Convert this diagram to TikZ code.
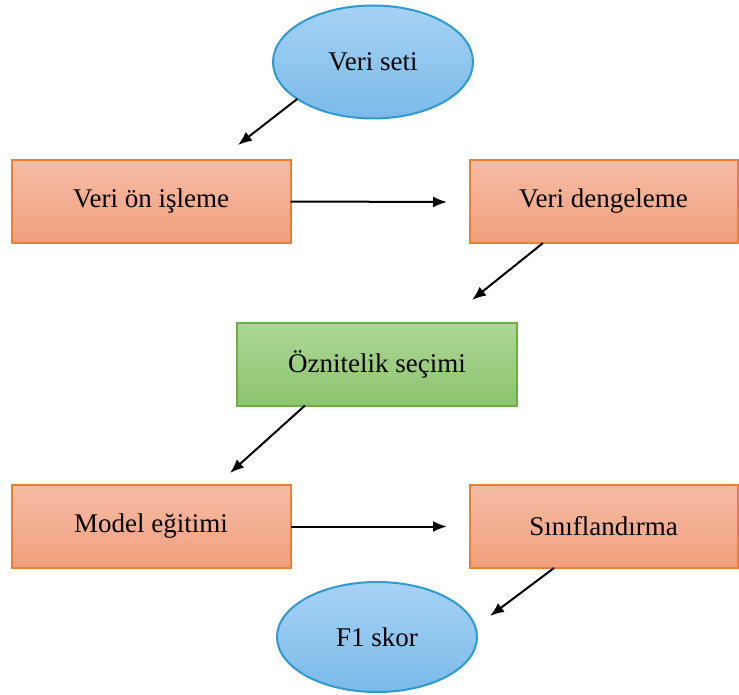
\documentclass[tikz,border=0pt]{standalone}
\usepackage{fontspec}
\setmainfont{Liberation Serif}
\usetikzlibrary{shapes.geometric,arrows.meta}
\definecolor{blueline}{HTML}{2E9AD0}
\definecolor{bluetop}{HTML}{A6D2F5}
\definecolor{bluebot}{HTML}{7BBAE8}
\definecolor{orangeline}{HTML}{ED7D31}
\definecolor{orangetop}{HTML}{F5BCA5}
\definecolor{orangebot}{HTML}{F19F7C}
\definecolor{greenline}{HTML}{70AD47}
\definecolor{greentop}{HTML}{ADD697}
\definecolor{greenbot}{HTML}{8CC46D}
\tikzset{
	adim/.style={draw=orangeline, line width=2pt, top color=orangetop, bottom color=orangebot, minimum height=83pt, outer sep=0pt},
	secim/.style={draw=greenline, line width=2pt, top color=greentop, bottom color=greenbot, minimum height=83pt, outer sep=0pt},
	uc/.style={ellipse, draw=blueline, line width=2pt, top color=bluetop, bottom color=bluebot, minimum width=200pt, outer sep=0pt},
	ok/.style={-{Latex[length=14pt,width=11pt]}, line width=2pt}
}

\begin{document}
\begin{tikzpicture}[x=1pt,y=1pt,font=\fontsize{27}{32}\selectfont]
		%%%%% START %%%%%
		\useasboundingbox (0,0) rectangle (739,-695);
		
		\node[uc, minimum height=113pt] (vs) at (373,-62) {Veri seti};
		\node[adim, minimum width=279pt] (voi) at (151,-201.5) {Veri ön işleme};
		\node[adim, minimum width=268pt] (vd) at (603.5,-201.5) {Veri dengeleme};
		\node[secim, minimum width=280pt] (os) at (377,-364) {Öznitelik seçimi};
		\node[adim, minimum width=279pt] (me) at (151,-526.5) {Model eğitimi};
		\node[adim, minimum width=268pt] (sf) at (603.5,-526.5) {Sınıflandırma};
		\node[uc, minimum height=110pt] (f1) at (377,-637) {F1 skor};
		
		\coordinate (t1) at (238,-145);
		\coordinate (t2) at (447,-202);
		\coordinate (t3) at (472,-300);
		\coordinate (t4) at (230,-473);
		\coordinate (t5) at (447,-526.5);
		\coordinate (t6) at (490,-616);
		
		\draw[ok] (vs.206) -- (t1);
		\draw[ok] (voi.east) -- (t2);
		\draw[ok] ([xshift=73.5pt]vd.south west) -- (t3);
		\draw[ok] ([xshift=68pt]os.south west) -- (t4);
		\draw[ok] (me.east) -- (t5);
		\draw[ok] ([xshift=84.5pt]sf.south west) -- (t6);
		%%%%% END %%%%%
\end{tikzpicture}
\end{document}
